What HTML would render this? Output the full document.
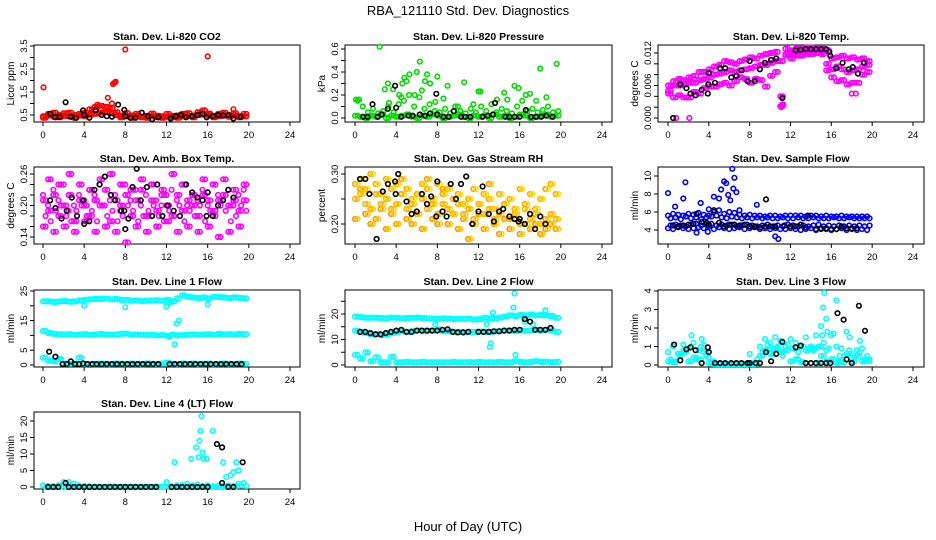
<!DOCTYPE html>
<html><head><meta charset="utf-8">
<style>
html,body{margin:0;padding:0;background:#fff;}
svg{display:block;font-family:"Liberation Sans",Arial,sans-serif;}
</style></head>
<body>
<svg id="chart" width="936" height="540" viewBox="0 0 936 540" xmlns="http://www.w3.org/2000/svg">
<rect x="0" y="0" width="936" height="540" fill="#fff"/>
<text x="468" y="15" text-anchor="middle" font-size="13">RBA_121110  Std. Dev. Diagnostics</text>
<text x="468" y="531" text-anchor="middle" font-size="13">Hour of Day (UTC)</text>
</svg>
<script>
const H=[0,0.5,1,1.5,2,2.5,3,3.5,4,4.5,5,5.5,6,6.5,7,7.5,8,8.5,9,9.5,10,10.5,11,11.5,12,12.5,13,13.5,14,14.5,15,15.5,16,16.5,17,17.5,18,18.5,19,19.5];
const H2=[0.25,0.75,1.25,1.75,2.25,2.75,3.25,3.75,4.25,4.75,5.25,5.75,6.25,6.75,7.25,7.75,8.25,8.75,9.25,9.75,10.25,10.75,11.25,11.75,12.25,12.75,13.25,13.75,14.25,14.75,15.25,15.75,16.25,16.75,17.25,17.75,18.25,18.75,19.25,19.75];
const xTicks=[0,4,8,12,16,20,24];

// P1 CO2
const co2RedA=[0.45,0.48,0.42,0.5,0.46,0.44,0.5,0.47,0.45,0.52,0.55,0.6,0.62,0.58,0.5,0.46,0.44,0.48,0.45,0.43,0.46,0.44,0.47,0.45,0.42,0.46,0.48,0.44,0.45,0.47,0.5,0.52,0.48,0.46,0.45,0.47,0.5,0.48,0.46,0.44];
const co2RedB=[0.38,0.55,0.6,0.4,0.58,0.6,0.38,0.55,0.6,0.75,0.85,0.9,0.85,0.8,0.62,0.4,0.58,0.38,0.55,0.4,0.38,0.56,0.4,0.38,0.55,0.4,0.38,0.55,0.58,0.4,0.62,0.7,0.56,0.4,0.55,0.6,0.42,0.58,0.4,0.55];
const co2OutH=[0.05,6.3,6.8,6.95,7.05,8,16,18.5,6.7,5.3];
const co2OutV=[1.7,1.25,1.85,1.9,1.95,3.35,3.05,0.75,1.0,0.95];
const co2BlkH=[0.7,1.2,1.6,2.2,2.7,3.2,3.9,4.0,4.5,5.1,5.7,6.2,6.7,7.3,7.9,8.0,8.5,9.0,9.6,10.2,10.6,11.2,12.4,12.9,13.4,13.9,14.5,15.0,15.5,15.9,16.5,17.0,17.5,18.0,18.5,19.2];
const co2BlkV=[0.55,0.4,0.42,1.05,0.42,0.38,0.7,0.5,0.38,0.7,0.5,0.45,0.42,0.95,0.72,0.45,0.38,0.38,0.6,0.45,0.32,0.4,0.35,0.45,0.5,0.4,0.45,0.5,0.55,0.4,0.45,0.5,0.48,0.5,0.35,0.42];
// P2 pressure
const prsA=[0.02,0.01,0.0,0.02,0.01,0.03,0.0,0.02,0.01,0.02,0.03,0.01,0.0,0.02,0.01,0.03,0.02,0.0,0.01,0.02,0.03,0.01,0.0,0.02,0.01,0.02,0.0,0.03,0.01,0.02,0.0,0.01,0.03,0.02,0.0,0.01,0.02,0.03,0.01,0.02];
const prsB=[0.15,0.1,0.05,0.08,0.04,0.06,0.1,0.05,0.12,0.15,0.2,0.1,0.18,0.08,0.12,0.06,0.05,0.08,0.04,0.1,0.06,0.04,0.08,0.05,0.1,0.06,0.12,0.05,0.08,0.06,0.04,0.1,0.15,0.06,0.08,0.05,0.07,0.1,0.05,0.06];
const prsOutH=[2.4,6.3,5.3,6.0,7.0,8.0,4.8,4.6,3.2,3.7,2.9,5.0,6.8,7.3,9.0,10.6,12.0,12.2,15.5,15.9,18.0,19.6,17.0,17.6,14.5,16.6,18.6,13.8,11.5,8.6,4.3,4.5,5.8,6.5,7.8,3.3,0.1,0.4,14.8,10.0];
const prsOutV=[0.62,0.49,0.38,0.4,0.38,0.36,0.35,0.3,0.3,0.25,0.25,0.32,0.32,0.3,0.28,0.31,0.23,0.23,0.28,0.26,0.43,0.47,0.21,0.15,0.22,0.2,0.18,0.16,0.12,0.17,0.2,0.18,0.2,0.24,0.14,0.13,0.16,0.16,0.16,0.1];
const prsBlkH=[0.8,1.2,1.7,2.2,2.6,3.2,3.9,4.0,4.5,5.2,5.6,6.3,6.8,7.3,7.9,8.0,8.6,9.1,9.6,10.3,10.7,11.2,12.4,12.9,13.4,13.6,14.6,15.0,15.5,16.0,16.6,17.1,17.6,18.1,18.6,19.2];
const prsBlkV=[0.01,0.01,0.12,0.01,0.03,0.08,0.28,0.09,0.01,0.02,0.02,0.03,0.02,0.04,0.21,0.03,0.01,0.01,0.06,0.01,0.01,0.01,0.01,0.02,0.03,0.13,0.01,0.01,0.01,0.01,0.07,0.01,0.01,0.01,0.02,0.01];
// P3 temp
const tmpHi=[0.006,0.0068,0.0072,0.007,0.0075,0.0078,0.0085,0.0085,0.009,0.0095,0.0098,0.0105,0.0103,0.01,0.0105,0.0108,0.0112,0.011,0.0115,0.0118,0.012,0.0122,0.0105,0.0128,0.0125,0.0128,0.0128,0.013,0.013,0.0128,0.0128,0.0125,0.011,0.0112,0.0115,0.011,0.0112,0.0108,0.011,0.0105];
const tmpMid=[0.005,0.006,0.006,0.0062,0.0065,0.0065,0.007,0.0072,0.0075,0.008,0.0082,0.0085,0.0088,0.0085,0.0088,0.009,0.0092,0.0095,0.0098,0.0098,0.0102,0.0105,0.004,0.0118,0.012,0.0118,0.0122,0.012,0.0122,0.0125,0.0122,0.01,0.009,0.0095,0.009,0.0085,0.0088,0.009,0.0095,0.0098];
const tmpLo=[0.0045,0.0038,0.0042,0.0038,0.0038,0.0048,0.0045,0.0055,0.0058,0.0058,0.0062,0.0065,0.006,0.0068,0.0075,0.0072,0.0065,0.0072,0.007,0.0058,0.0078,0.0085,0.0022,0.0115,0.011,0.0115,0.0115,0.0118,0.0118,0.012,0.0118,0.0088,0.0075,0.0068,0.007,0.0062,0.0065,0.0065,0.008,0.0085];
const tmpOutH=[0.8,2.1,11.1,11.3,18.0,18.4,11.2];
const tmpOutV=[0.0,0.0,0.002,0.0025,0.0045,0.0045,0.0025];
const tmpBlkH=[0.5,1.2,1.8,2.2,2.7,3.3,3.9,3.95,4.0,4.6,5.1,5.6,6.2,6.7,7.2,7.8,8.0,8.5,9.0,9.5,10.1,10.6,11.2,12.5,13.0,13.5,14.0,14.5,15.0,15.5,15.8,15.9,16.5,17.1,17.7,18.1,18.6,19.2];
const tmpBlkV=[0.0,0.0062,0.0055,0.0045,0.0042,0.0052,0.0045,0.0062,0.0083,0.0065,0.0092,0.0092,0.0075,0.0078,0.0088,0.0068,0.0105,0.0068,0.009,0.0102,0.0107,0.011,0.0037,0.0125,0.0126,0.0127,0.0127,0.0127,0.0127,0.0127,0.0122,0.0115,0.0092,0.0102,0.009,0.0094,0.0082,0.0102];
// P4 ambient box temp
const ambA=[0.22,0.2,0.23,0.21,0.24,0.19,0.2,0.22,0.21,0.23,0.22,0.24,0.2,0.21,0.22,0.19,0.24,0.21,0.23,0.2,0.22,0.24,0.21,0.2,0.22,0.23,0.21,0.24,0.2,0.22,0.21,0.23,0.2,0.24,0.22,0.21,0.23,0.2,0.22,0.23];
const ambB=[0.18,0.17,0.19,0.2,0.18,0.17,0.19,0.2,0.18,0.19,0.17,0.2,0.18,0.19,0.17,0.18,0.2,0.19,0.17,0.18,0.19,0.2,0.18,0.17,0.19,0.18,0.2,0.17,0.19,0.18,0.2,0.17,0.19,0.18,0.2,0.19,0.17,0.18,0.2,0.19];
const ambC=[0.16,0.25,0.15,0.24,0.16,0.26,0.15,0.24,0.17,0.23,0.15,0.25,0.16,0.26,0.15,0.24,0.13,0.23,0.16,0.25,0.15,0.24,0.16,0.23,0.17,0.26,0.15,0.24,0.16,0.22,0.15,0.25,0.16,0.24,0.14,0.25,0.15,0.23,0.16,0.24];
const ambD=[0.21,0.19,0.22,0.18,0.2,0.22,0.17,0.21,0.2,0.18,0.21,0.2,0.23,0.17,0.21,0.2,0.22,0.18,0.21,0.23,0.18,0.21,0.19,0.22,0.2,0.18,0.22,0.19,0.21,0.2,0.18,0.22,0.21,0.19,0.21,0.22,0.2,0.21,0.19,0.21];
const ambBlkH=[0.7,1.2,1.8,2.3,2.8,3.3,3.9,4.0,4.5,5.0,5.5,6.0,6.6,7.0,7.6,7.9,8.0,8.3,8.7,9.1,9.5,10.1,10.6,11.1,11.6,12.1,12.7,13.3,13.9,14.5,15.0,15.5,15.9,16.0,16.5,17.0,17.5,18.0,18.5];
const ambBlkV=[0.21,0.195,0.175,0.19,0.215,0.18,0.21,0.165,0.17,0.23,0.24,0.255,0.22,0.21,0.19,0.19,0.155,0.175,0.235,0.27,0.21,0.235,0.18,0.24,0.18,0.2,0.19,0.18,0.24,0.225,0.215,0.21,0.18,0.225,0.18,0.2,0.21,0.23,0.215];
// P5 RH
const rhA=[0.28,0.29,0.27,0.3,0.28,0.26,0.29,0.27,0.28,0.26,0.27,0.25,0.26,0.28,0.27,0.25,0.28,0.26,0.27,0.25,0.26,0.24,0.25,0.27,0.24,0.26,0.25,0.23,0.26,0.24,0.25,0.23,0.27,0.24,0.26,0.23,0.25,0.27,0.28,0.26];
const rhB=[0.25,0.26,0.24,0.23,0.26,0.24,0.25,0.23,0.24,0.26,0.23,0.24,0.22,0.25,0.23,0.24,0.22,0.24,0.23,0.22,0.24,0.22,0.23,0.21,0.24,0.22,0.23,0.21,0.22,0.24,0.21,0.22,0.2,0.23,0.21,0.22,0.2,0.21,0.22,0.21];
const rhC=[0.21,0.27,0.22,0.2,0.21,0.23,0.19,0.22,0.2,0.29,0.21,0.2,0.22,0.19,0.29,0.21,0.2,0.27,0.2,0.22,0.19,0.21,0.17,0.2,0.22,0.19,0.28,0.2,0.18,0.21,0.19,0.22,0.18,0.2,0.19,0.2,0.18,0.19,0.2,0.19];
const rhBlkH=[0.5,1.0,1.4,2.1,2.7,3.2,3.9,3.95,4.2,5.0,5.5,6.0,6.5,7.0,7.4,7.9,8.0,8.5,8.9,9.3,9.8,10.3,10.8,11.4,12.0,12.4,13.0,13.5,14.0,14.4,15.0,15.5,15.9,16.0,16.5,17.0,17.5,18.0,18.5];
const rhBlkV=[0.29,0.29,0.26,0.17,0.265,0.28,0.285,0.26,0.3,0.245,0.22,0.225,0.26,0.24,0.255,0.215,0.285,0.225,0.215,0.28,0.25,0.28,0.295,0.2,0.225,0.275,0.22,0.205,0.225,0.23,0.215,0.21,0.205,0.21,0.2,0.22,0.19,0.215,0.2];
// P6 sample flow
const sfHi=[5.6,5.8,5.7,5.6,5.8,5.7,5.9,5.7,5.6,6.0,6.2,5.8,6.0,5.9,5.7,5.6,5.7,5.6,5.6,5.5,5.6,5.6,5.5,5.6,5.6,5.6,5.6,5.5,5.6,5.6,5.5,5.6,5.5,5.5,5.6,5.5,5.5,5.5,5.5,5.5];
const sfHi2=[5.3,5.4,5.2,5.5,5.3,5.4,5.2,5.4,5.5,5.6,5.4,5.3,5.5,5.4,5.3,5.4,5.3,5.4,5.3,5.4,5.3,5.3,5.4,5.3,5.3,5.4,5.3,5.3,5.4,5.3,5.3,5.3,5.4,5.3,5.3,5.4,5.3,5.3,5.3,5.3];
const sfLo=[4.2,4.1,4.3,4.2,4.1,4.2,4.3,4.2,4.4,4.1,4.3,4.2,4.1,4.2,4.3,4.1,4.2,4.3,4.1,4.2,4.1,4.2,4.1,4.1,4.2,4.1,4.0,4.1,4.2,4.0,4.1,4.1,4.0,4.1,4.2,4.0,4.1,4.0,4.1,4.0];
const sfLo2=[4.5,4.6,4.5,4.4,4.6,4.7,4.5,4.6,4.7,4.5,4.6,4.5,4.6,4.4,4.5,4.6,4.5,4.4,4.5,4.6,4.4,4.5,4.4,4.6,4.5,4.4,4.5,4.4,4.5,4.6,4.4,4.5,4.4,4.5,4.4,4.5,4.4,4.5,4.4,4.5];
const sfOutH=[0,0.7,1.5,1.7,3.2,4.0,4.5,5.0,5.2,5.5,5.7,5.9,6.1,6.3,6.4,6.5,6.7,7.0,8.7,10.5,10.8,3.9,2.8];
const sfOutV=[8.1,6.6,7.5,9.3,7.0,6.3,7.7,7.5,8.5,9.4,9.2,7.9,7.3,10.8,8.6,9.8,8.2,6.2,6.8,3.3,3.0,3.8,3.7];
const sfBlkH=[0.5,1.0,1.5,2.0,2.5,2.8,3.3,3.8,4.0,4.5,5.0,5.5,6.0,6.5,7.0,7.5,8.0,8.5,9.0,9.5,10.0,10.5,9.6,11.4,12.0,12.5,13.0,13.5,13.7,14.5,15.0,15.5,16.0,16.5,17.0,17.5,18.0,18.5];
const sfBlkV=[4.5,4.4,4.5,4.6,4.7,5.8,4.9,4.8,4.6,6.2,4.8,4.4,4.6,4.6,4.5,4.6,4.4,4.4,4.3,4.4,4.4,4.4,7.4,4.5,4.4,4.4,4.6,4.3,5.6,4.1,4.2,4.2,4.1,4.1,4.4,4.2,4.2,4.2];
// P7 line 1
const l1A=[21.5,21.5,21.3,21.5,21.6,21.4,21.5,21.8,22,22.2,22.3,22.3,22.4,22.2,22.3,22,22,21.8,21.8,21.6,21.7,21.8,21.9,21.7,22,21.5,22.5,23.5,23,22.8,22.6,22.8,22.5,23,23,22.8,22.6,22.8,22.7,22.5];
const l1B=[11.5,10.8,10.5,10.4,10.3,10.4,10.2,10.3,10.4,10.2,10.3,10.5,10.3,10.2,10.3,10.5,10.6,10.2,10.3,10.2,10.1,10.2,10.0,10.1,9.9,10.2,10.0,10.1,10.2,10.3,10.2,10.3,10.4,10.2,10.5,10.3,10.4,10.3,10.5,10.4];
const l1C=[2.5,1.5,1.2,2.0,0.5,0.4,0.5,2.5,0.3,0.4,0.3,0.5,0.4,0.3,0.5,0.4,0.3,0.5,0.4,0.3,0.5,0.4,0.3,0.5,0.8,0.4,0.3,0.5,0.4,0.5,0.3,0.4,0.5,0.3,0.4,0.5,0.3,0.4,0.5,0.4];
const l1OutH=[4.0,8.0,12.0,12.3,13.0,13.2,12.8,16.0,12.3,12.7];
const l1OutV=[20,19.5,19.8,21,14,15,7,20.5,9.5,21.5];
const l1BlkH=[0.6,1.2,2.7,1.9,2.3,3.1,3.5,3.9,4.3,4.8,5.2,5.7,6.2,6.7,7.2,7.7,8.2,8.7,9.2,9.7,10.2,10.7,11.2,12.3,12.8,13.3,13.8,14.3,14.8,15.3,15.8,16.3,16.8,17.3,17.8,18.3,18.8,19.3];
const l1BlkV=[4.5,2.8,1.2,0.3,0.3,0.3,0.3,0.5,0.3,0.3,0.3,0.3,0.3,0.3,0.3,0.3,0.3,0.3,0.3,0.3,0.3,0.3,0.3,0.3,0.3,0.3,0.3,0.3,0.3,0.3,0.3,0.3,0.3,0.3,0.3,0.3,0.3,0.3];
// P8 line 2
const l2A=[19,18.8,18.5,18.6,18.5,18.4,18.3,18.6,18.5,18.3,18.4,18.5,18.6,18.4,18.3,18.2,18.1,18.3,18.2,18.0,18.1,18.0,18.2,17.8,18.0,18.5,18.3,18.2,18.6,19.0,19.5,19.2,19.6,19.5,19.8,19.5,19.6,19.4,19.2,18.5];
const l2B=[13.5,13,12.5,12,12.2,11.8,12,12.5,13,13.2,13,13.3,13.5,13.2,13.4,13.5,14,13.2,13.2,13,13,12.8,13,13,13.1,13,13,13.2,13.3,13.5,13.5,13.2,13.6,13.4,13.6,13.8,13.5,13.8,13.6,13];
const l2C=[4,2.5,5,1.5,3,1,1,3.2,1,1,1.2,1,1,1.2,1,1,1.1,1,1,1.2,1,1,1.1,1,1.2,1,1.1,1,1.2,1,1,1.5,1.2,1,1.2,1.5,1.2,1.3,1.1,1.2];
const l2OutH=[13.1,13.2,13.4,15.5,15.4,15.6,16.5,17.3,18.5,7.8,12.8];
const l2OutV=[7,8.5,20.5,28,22.5,4,17,16,21.5,16,16];
const l2BlkH=[0.5,1.0,1.5,2.0,2.5,3.0,3.5,4.0,4.5,5.0,5.5,6.0,6.5,7.0,7.5,8.0,8.5,9.0,9.5,10.0,10.5,11.0,12.0,12.5,13.0,13.5,14.0,14.5,15.0,15.5,16.0,16.5,17.0,17.5,18.0,18.5,19.0];
const l2BlkV=[13,13,12.5,12,12,12.5,13,13.5,13.8,13,13,13.5,13.5,13.5,13.5,13.5,13.8,14,13,12.8,12.8,13,13,13,13,13.2,13.2,13.5,13.5,13.8,13.8,18,17,13.8,13.8,13.8,14.5];
// P9 line 3
const l3A=[0.7,1.0,0.6,1.1,0.9,1.2,0.8,1.1,0.4,0.2,0.05,0.05,0.05,0.05,0.05,0.05,0.6,0.05,1.0,1.4,1.2,1.5,1.3,1.0,1.4,1.2,1.0,1.5,1.0,0.9,1.0,0.8,1.6,1.0,0.9,1.8,0.6,0.8,0.9,0.5];
const l3B=[0.2,0.15,0.6,0.8,0.2,0.4,0.3,0.7,0.1,0.05,0.05,0.05,0.05,0.05,0.05,0.05,0.05,0.1,0.5,0.8,0.6,0.9,0.7,0.8,0.2,0.3,0.15,0.8,0.9,0.1,0.5,0.2,0.3,0.1,0.15,0.6,0.2,0.5,0.2,0.3];
const l3C=[0.3,0.2,0.5,0.7,1.0,0.3,1.0,0.5,0.15,0.05,0.05,0.05,0.05,0.05,0.05,0.05,0.1,0.3,0.7,1.1,0.9,1.0,0.5,1.1,0.9,0.7,1.0,0.9,0.8,1.0,1.2,0.9,0.3,0.2,0.5,0.8,0.4,0.7,0.3,0.2];
const l3OutH=[15.3,15.5,15.0,15.2,16.5,15.6,15.1,14.5,16.8,17.8,16.2,18.8,2.3,3.3];
const l3OutV=[3.9,2.5,2.1,3.1,3.5,1.8,1.6,1.6,0.5,1.5,1.7,1.3,1.6,1.4];
const l3BlkH=[0.6,1.2,1.8,2.2,2.7,3.3,3.9,4.0,4.6,5.1,5.6,6.2,6.7,7.2,7.8,8.0,8.6,9.0,9.6,10.1,10.6,11.2,12.5,13.0,13.5,14.0,14.5,15.0,15.5,15.9,16.6,17.2,17.5,18.0,18.7,19.3];
const l3BlkV=[1.1,0.25,0.85,0.95,0.8,0.1,0.95,0.7,0.1,0.1,0.1,0.1,0.1,0.1,0.1,0.1,0.1,0.1,0.7,0.2,0.6,1.25,0.95,1.05,0.1,0.1,0.1,0.1,0.1,0.1,2.8,2.45,0.3,0.1,3.2,1.85];
// P10 line 4
const l4A=[0.5,0.3,0.2,0.5,1.5,1.5,1.0,0.5,0.3,0.2,0.1,0.1,0.1,0.1,0.1,0.1,0.1,0.1,0.1,0.1,0.1,0.1,0.1,0.1,1.5,0.2,0.5,0.6,1.0,0.5,0.8,0.3,0.5,0.2,0.4,0.3,0.5,0.3,1.0,1.2];
const l4B=[0,0,0,0.1,0,0,0,0,0,0,0,0,0,0,0,0,0,0,0,0,0,0,0,0,0,0,0,0,0,0,0,0,0,0,0,0,0,0.2,0.5,0.3];
const l4OutH=[12.8,14.4,14.9,15.1,15.2,15.3,15.4,15.6,15.5,15.9,16.5,17.5,17.8,18.2,18.5,18.8,19.0];
const l4OutV=[7.5,8.5,12,9,14,17,21.5,8.5,10.5,8.5,17,7.5,3,3.5,4.5,7.5,5];
const l4BlkH=[0.5,1.0,1.5,2.2,2.5,3.0,3.5,4.0,4.5,5.0,5.5,6.0,6.5,7.0,7.5,8.0,8.5,9.0,9.5,10.0,10.5,11.0,12.5,13.0,13.5,14.0,14.5,15.0,15.5,16.0,16.9,17.4,17.4,18.0,18.5,19.4];
const l4BlkV=[0,0,0,1.2,0,0,0,0,0,0,0,0,0,0,0,0,0,0,0,0,0,0,0,0,0,0,0,0,0,0,13,12,1.2,0,0,7.5];

const svg=document.getElementById('chart');
const NS='http://www.w3.org/2000/svg';
const colBox=[[34,300],[345,612],[658,924]];
const colX=[[43,290],[355,602],[668,913]];
const rowBox=[[45,122],[167,244],[290,367],[412,489]];
const ylabX=[10,321,634];

function el(tag,parent){const e=document.createElementNS(NS,tag);parent.appendChild(e);return e;}

function makePanel(cfg){
  const g=el('g',svg);
  
  
  const [bl,br]=colBox[cfg.col],[bt,bb]=rowBox[cfg.row],[x0,x24]=colX[cfg.col];
  const xs=v=>x0+(x24-x0)*v/24;
  const [v1,p1,v2,p2]=cfg.ymap;
  const ys=v=>p1+(p2-p1)*(v-v1)/(v2-v1);
  const box=el('rect',g);
  
  
  box.setAttribute('x',bl);box.setAttribute('y',bt);box.setAttribute('width',br-bl);box.setAttribute('height',bb-bt);
  box.setAttribute('fill','none');box.setAttribute('stroke','#000');box.setAttribute('stroke-width','1');
  const t=el('text',g);
  
  
  t.setAttribute('x',(bl+br)/2);t.setAttribute('y',bt-5);t.setAttribute('text-anchor','middle');
  t.setAttribute('font-size','10.5');t.setAttribute('font-weight','bold');t.textContent=cfg.title;
  const yl=el('text',g);
  
  
  const yc=(bt+bb)/2;
  yl.setAttribute('transform','translate('+ylabX[cfg.col]+','+yc+') rotate(-90)');
  yl.setAttribute('text-anchor','middle');yl.setAttribute('font-size','10');yl.setAttribute('dy','4');yl.textContent=cfg.ylab;
  const xa=el('line',g);
  
  
  xa.setAttribute('x1',xs(0));xa.setAttribute('x2',xs(24));xa.setAttribute('y1',bb);xa.setAttribute('y2',bb);xa.setAttribute('stroke','#000');
  xTicks.forEach(v=>{
    const tk=el('line',g);
    
    
    tk.setAttribute('x1',xs(v));tk.setAttribute('x2',xs(v));tk.setAttribute('y1',bb);tk.setAttribute('y2',bb+4);tk.setAttribute('stroke','#000');
    const tl=el('text',g);
    
    
    tl.setAttribute('x',xs(v));tl.setAttribute('y',bb+16);tl.setAttribute('text-anchor','middle');tl.setAttribute('font-size','9.5');tl.textContent=v;
  });
  const ya=el('line',g);
  
  
  ya.setAttribute('x1',bl);ya.setAttribute('x2',bl);ya.setAttribute('y1',ys(cfg.yticks[0]));ya.setAttribute('y2',ys(cfg.yticks[cfg.yticks.length-1]));ya.setAttribute('stroke','#000');
  cfg.yticks.forEach(v=>{
    const tk=el('line',g);
    
    
    tk.setAttribute('x1',bl-4);tk.setAttribute('x2',bl);tk.setAttribute('y1',ys(v));tk.setAttribute('y2',ys(v));tk.setAttribute('stroke','#000');
  });
  cfg.ylabels.forEach((s,i)=>{
    const tl=el('text',g);
    
    
    tl.setAttribute('transform','translate('+(bl-7)+','+ys(cfg.ylabelVals[i])+') rotate(-90)');
    tl.setAttribute('text-anchor','middle');tl.setAttribute('font-size','9.5');tl.textContent=s;
  });
  cfg.series.forEach(sr=>{
    const sg=el('g',g);
    
    
    sg.setAttribute('fill','none');sg.setAttribute('stroke',sr.color);sg.setAttribute('stroke-width','1.6');
    sr.x.forEach((h,i)=>{
      const c=el('circle',sg);
      
      
      c.setAttribute('cx',xs(h).toFixed(1));c.setAttribute('cy',ys(sr.y[i]).toFixed(1));c.setAttribute('r','2.3');
    });
  });
}

const RED='#ff0000',GRN='#00dd00',MAG='#ff00ff',BLU='#0000ff',CYN='#00ffff',BLK='#000000';
const panels=[
 {name:'panel-co2',title:'Stan. Dev. Li-820 CO2',ylab:'Licor ppm',col:0,row:0,ymap:[0.5,115,3.5,46],yticks:[0.5,1,1.5,2,2.5,3,3.5],ylabels:['0.5','1.5','2.5','3.5'],ylabelVals:[0.5,1.5,2.5,3.5],
  series:[{name:'co2-band-a',x:H,y:co2RedA,color:RED},{name:'co2-band-a2',x:H2,y:co2RedA,color:RED},{name:'co2-band-b',x:H2,y:co2RedB,color:RED},{name:'co2-band-b2',x:H,y:co2RedB,color:RED},{name:'co2-outliers',x:co2OutH,y:co2OutV,color:RED},{name:'co2-hourly',x:co2BlkH,y:co2BlkV,color:BLK}]},
 {name:'panel-pressure',title:'Stan. Dev. Li-820 Pressure',ylab:'kPa',col:1,row:0,ymap:[0,118,0.6,49],yticks:[0,0.1,0.2,0.3,0.4,0.5,0.6],ylabels:['0.0','0.2','0.4','0.6'],ylabelVals:[0,0.2,0.4,0.6],
  series:[{name:'pressure-band-a',x:H,y:prsA,color:GRN},{name:'pressure-band-a2',x:H2,y:prsA,color:GRN},{name:'pressure-band-b',x:H2,y:prsB,color:GRN},{name:'pressure-scatter',x:prsOutH,y:prsOutV,color:GRN},{name:'pressure-hourly',x:prsBlkH,y:prsBlkV,color:BLK}]},
 {name:'panel-temp',title:'Stan. Dev. Li-820 Temp.',ylab:'degrees C',col:2,row:0,ymap:[0,118,0.012,53],yticks:[0,0.002,0.004,0.006,0.008,0.01,0.012],ylabels:['0.000','0.006','0.012'],ylabelVals:[0,0.006,0.012],
  series:[{name:'temp-band-hi',x:H,y:tmpHi,color:MAG},{name:'temp-band-hi2',x:H2,y:tmpHi,color:MAG},{name:'temp-band-mid',x:H2,y:tmpMid,color:MAG},{name:'temp-band-lo',x:H,y:tmpLo,color:MAG},{name:'temp-band-lo2',x:H2,y:tmpLo,color:MAG},{name:'temp-band-mid2',x:H,y:tmpMid,color:MAG},{name:'temp-outliers',x:tmpOutH,y:tmpOutV,color:MAG},{name:'temp-hourly',x:tmpBlkH,y:tmpBlkV,color:BLK}]},
 {name:'panel-amb-temp',title:'Stan. Dev. Amb. Box Temp.',ylab:'degrees C',col:0,row:1,ymap:[0.14,237,0.26,174],yticks:[0.14,0.16,0.18,0.2,0.22,0.24,0.26],ylabels:['0.14','0.20','0.26'],ylabelVals:[0.14,0.2,0.26],
  series:[{name:'amb-a',x:H,y:ambA,color:MAG},{name:'amb-b',x:H2,y:ambB,color:MAG},{name:'amb-c',x:H,y:ambC,color:MAG},{name:'amb-d',x:H2,y:ambD,color:MAG},{name:'amb-e',x:H2,y:ambC,color:MAG},{name:'amb-f',x:H,y:ambD,color:MAG},{name:'amb-hourly',x:ambBlkH,y:ambBlkV,color:BLK}]},
 {name:'panel-rh',title:'Stan. Dev. Gas Stream RH',ylab:'percent',col:1,row:1,ymap:[0.2,224,0.3,174],yticks:[0.2,0.25,0.3],ylabels:['0.20','0.30'],ylabelVals:[0.2,0.3],
  series:[{name:'rh-a',x:H,y:rhA,color:'#ffa500'},{name:'rh-b',x:H2,y:rhB,color:'#ffd000'},{name:'rh-c',x:H,y:rhC,color:'#ff9000'},{name:'rh-d',x:H2,y:rhA,color:'#ffe000'},{name:'rh-e',x:H,y:rhB,color:'#ffb000'},{name:'rh-f',x:H2,y:rhC,color:'#ffd000'},{name:'rh-hourly',x:rhBlkH,y:rhBlkV,color:BLK}]},
 {name:'panel-sample-flow',title:'Stan. Dev. Sample Flow',ylab:'ml/min',col:2,row:1,ymap:[4,230,10,176],yticks:[4,6,8,10],ylabels:['4','6','8','10'],ylabelVals:[4,6,8,10],
  series:[{name:'flow-hi',x:H,y:sfHi,color:BLU},{name:'flow-hi2',x:H2,y:sfHi2,color:BLU},{name:'flow-lo',x:H,y:sfLo,color:BLU},{name:'flow-lo2',x:H2,y:sfLo2,color:BLU},{name:'flow-outliers',x:sfOutH,y:sfOutV,color:BLU},{name:'flow-hourly',x:sfBlkH,y:sfBlkV,color:BLK}]},
 {name:'panel-line1',title:'Stan. Dev. Line 1 Flow',ylab:'ml/min',col:0,row:2,ymap:[0,365,25,291],yticks:[0,5,10,15,20,25],ylabels:['0','5','15','25'],ylabelVals:[0,5,15,25],
  series:[{name:'line1-a',x:H,y:l1A,color:CYN},{name:'line1-a2',x:H2,y:l1A,color:CYN},{name:'line1-b',x:H,y:l1B,color:CYN},{name:'line1-b2',x:H2,y:l1B,color:CYN},{name:'line1-c',x:H,y:l1C,color:CYN},{name:'line1-c2',x:H2,y:l1C,color:CYN},{name:'line1-outliers',x:l1OutH,y:l1OutV,color:CYN},{name:'line1-hourly',x:l1BlkH,y:l1BlkV,color:BLK}]},
 {name:'panel-line2',title:'Stan. Dev. Line 2 Flow',ylab:'ml/min',col:1,row:2,ymap:[0,365,20,314],yticks:[0,5,10,15,20,25],ylabels:['0','10','20'],ylabelVals:[0,10,20],
  series:[{name:'line2-a',x:H,y:l2A,color:CYN},{name:'line2-a2',x:H2,y:l2A,color:CYN},{name:'line2-b',x:H,y:l2B,color:CYN},{name:'line2-b2',x:H2,y:l2B,color:CYN},{name:'line2-c',x:H,y:l2C,color:CYN},{name:'line2-c2',x:H2,y:l2C,color:CYN},{name:'line2-outliers',x:l2OutH,y:l2OutV,color:CYN},{name:'line2-hourly',x:l2BlkH,y:l2BlkV,color:BLK}]},
 {name:'panel-line3',title:'Stan. Dev. Line 3 Flow',ylab:'ml/min',col:2,row:2,ymap:[0,365,4,291],yticks:[0,1,2,3,4],ylabels:['0','1','2','3','4'],ylabelVals:[0,1,2,3,4],
  series:[{name:'line3-a',x:H,y:l3A,color:CYN},{name:'line3-b',x:H2,y:l3B,color:CYN},{name:'line3-c',x:H2,y:l3C,color:CYN},{name:'line3-d',x:H,y:l3B,color:CYN},{name:'line3-outliers',x:l3OutH,y:l3OutV,color:CYN},{name:'line3-hourly',x:l3BlkH,y:l3BlkV,color:BLK}]},
 {name:'panel-line4',title:'Stan. Dev. Line 4 (LT) Flow',ylab:'ml/min',col:0,row:3,ymap:[0,487,20,421],yticks:[0,5,10,15,20],ylabels:['0','5','10','15','20'],ylabelVals:[0,5,10,15,20],
  series:[{name:'line4-a',x:H,y:l4A,color:CYN},{name:'line4-b',x:H2,y:l4B,color:CYN},{name:'line4-outliers',x:l4OutH,y:l4OutV,color:CYN},{name:'line4-hourly',x:l4BlkH,y:l4BlkV,color:BLK}]}
];
panels.forEach(makePanel);
</script>
</body></html>
